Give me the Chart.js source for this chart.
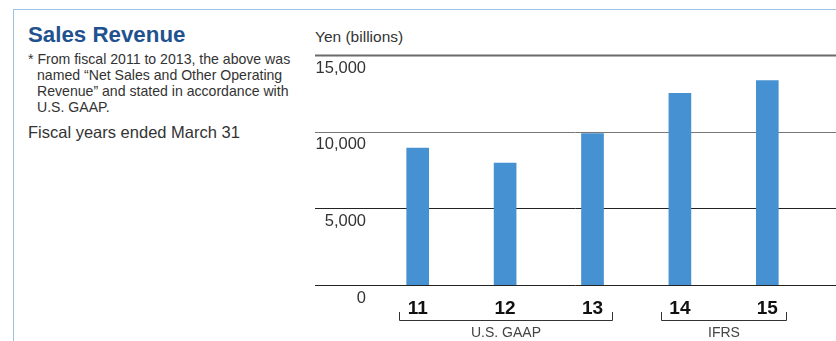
<!DOCTYPE html>
<html>
<head>
<meta charset="utf-8">
<script src="https://cdn.jsdelivr.net/npm/chart.js@4"></script>
<style>
  html, body { margin: 0; padding: 0; background: #fff; }
  body { width: 836px; height: 341px; position: relative; overflow: hidden; font-family: "Liberation Sans", Arial, sans-serif; }
  .frame { position: absolute; left: 13px; top: 9px; right: -2px; bottom: -2px; border-top: 1.5px solid #9ec1e6; border-left: 1.5px solid #9ec1e6; }
  .side { position: absolute; left: 28px; top: 22px; width: 290px; color: #333; }
  .side h1 { margin: 0; font-size: 22.3px; font-weight: bold; color: #1f528f; line-height: 26px; }
  .side .note { margin: 3px 0 0 0; font-size: 14.1px; line-height: 16px; padding-left: 9px; text-indent: -9px; white-space: nowrap; }
  .side .fy { margin: 8px 0 0 0; font-size: 16.5px; }
  .unit { position: absolute; left: 315px; top: 28px; font-size: 15.5px; color: #333; }
  canvas { position: absolute; left: 0; top: 0; }
</style>
</head>
<body>
<div class="frame"></div>
<div class="side">
  <h1>Sales Revenue</h1>
  <p class="note">* From fiscal 2011 to 2013, the above was<br>named “Net Sales and Other Operating<br>Revenue” and stated in accordance with<br>U.S. GAAP.</p>
  <p class="fy">Fiscal years ended March 31</p>
</div>
<div class="unit">Yen (billions)</div>
<canvas id="c" width="836" height="341"></canvas>
<script>
// ── Sales revenue chart ──
const years = ['11', '12', '13', '14', '15'];
const revenue = [8937, 7948, 9878, 12506, 13328];
const yTicks = [0, 5000, 10000, 15000];
const groupLabels = ['U.S. GAAP', 'IFRS'];
const groupSpans = [[0, 2], [3, 4]];

const gridLines = {
  id: 'gridLines',
  beforeDatasetsDraw(chart) {
    const ctx = chart.ctx, y = chart.scales.y;
    ctx.save();
    yTicks.forEach(v => {
      const py = Math.round(y.getPixelForValue(v)) + 0.5;
      ctx.strokeStyle = v === 15000 ? '#6b6b6b' : (v === 10000 ? '#777' : '#222');
      ctx.lineWidth = v === 15000 ? 2 : 1;
      ctx.beginPath(); ctx.moveTo(315, py); ctx.lineTo(836, py); ctx.stroke();
    });
    ctx.restore();
  }
};

const brackets = {
  id: 'brackets',
  afterDraw(chart) {
    const ctx = chart.ctx, x = chart.scales.x;
    ctx.save();
    ctx.strokeStyle = '#333'; ctx.lineWidth = 1;
    ctx.fillStyle = '#444';
    ctx.font = '14px "Liberation Sans", Arial, sans-serif';
    ctx.textAlign = 'center'; ctx.textBaseline = 'middle';
    groupSpans.forEach((s, i) => {
      const x0 = Math.round(x.getPixelForValue(s[0]) - 19) + 0.5;
      const x1 = Math.round(x.getPixelForValue(s[1]) + 19) + 0.5;
      ctx.beginPath();
      ctx.moveTo(x0, 312); ctx.lineTo(x0, 320.5); ctx.lineTo(x1, 320.5); ctx.lineTo(x1, 312);
      ctx.stroke();
      ctx.fillText(groupLabels[i], (x0 + x1) / 2, 333);
    });
    ctx.restore();
  }
};

new Chart(document.getElementById('c').getContext('2d'), {
  type: 'bar',
  data: {
    labels: years,
    datasets: [{ data: revenue, backgroundColor: '#4691d1', barThickness: 22 }]
  },
  options: {
    responsive: false,
    animation: false,
    layout: { padding: { left: 295, top: 55, right: 25, bottom: 0 } },
    plugins: { legend: { display: false }, tooltip: { enabled: false } },
    scales: {
      x: {
        grid: { display: false },
        border: { display: false },
        ticks: { color: '#111', padding: 4, font: { size: 19, weight: 'bold', family: '"Liberation Sans", Arial, sans-serif' } },
        afterFit(s) { s.height = 56; }
      },
      y: {
        min: 0, max: 15000,
        afterBuildTicks(s) { s.ticks = yTicks.map(v => ({ value: v })); },
        grid: { display: false, drawTicks: false },
        border: { display: false },
        ticks: {
          color: '#333', padding: 8, labelOffset: 13,
          font: { size: 16.5, family: '"Liberation Sans", Arial, sans-serif' },
          callback: v => v.toLocaleString('en-US')
        },
        afterFit(s) { s.width = 79; }
      }
    }
  },
  plugins: [gridLines, brackets]
});
</script>
</body>
</html>
